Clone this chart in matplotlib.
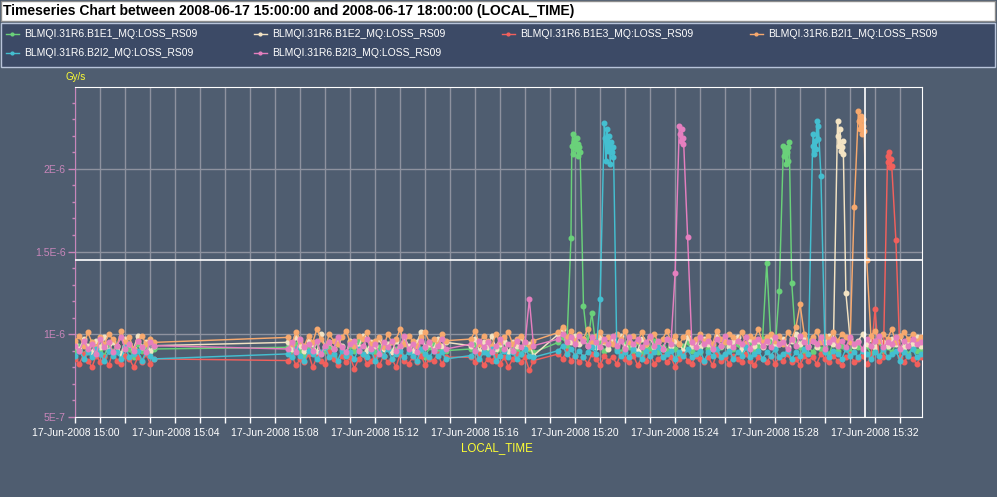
import pandas as pd
import matplotlib
matplotlib.use("Agg")
import matplotlib.pyplot as plt
import matplotlib.dates as mdates
from matplotlib.lines import Line2D
from matplotlib.patches import Rectangle
from matplotlib.ticker import MultipleLocator, FuncFormatter

plt.rcParams['font.family'] = ['Liberation Sans', 'DejaVu Sans']

# logging segments (start, number of 10 s samples)
seg_starts = ["2008-06-17 15:00:00", "2008-06-17 15:08:30", "2008-06-17 15:15:50", "2008-06-17 15:19:20"]
seg_counts = [20, 39, 16, 88]

names = ["BLMQI.31R6.B1E1_MQ:LOSS_RS09", "BLMQI.31R6.B1E2_MQ:LOSS_RS09", "BLMQI.31R6.B1E3_MQ:LOSS_RS09",
         "BLMQI.31R6.B2I1_MQ:LOSS_RS09", "BLMQI.31R6.B2I2_MQ:LOSS_RS09", "BLMQI.31R6.B2I3_MQ:LOSS_RS09"]
colors = ['#6ad17a', '#f3e3c3', '#f2605c', '#f7a96e', '#44bfd0', '#e57fbf']

# values in 1e-8 Gy/s on the 10 s grid
b1e1 = [90, 93, 88, 92, 95, 89, 91, 87, 94, 90, 92, 88, 93, 91, 86, 94, 90, 92, 89, 91,
        92, 89, 94, 90, 87, 93, 91, 95, 88, 90, 92, 86, 94, 91, 89, 93, 90, 96, 88, 91,
        93, 89, 92, 87, 94, 90, 91, 88, 95, 92, 89, 93, 90, 86, 92, 94, 89, 91, 90,
        91, 94, 88, 92, 90, 93, 87, 91, 95, 89, 92, 90, 88, 93, 91, 89,
        95, 98, 93, 158, 218, 213, 117, 94, 113, 92,
        95, 90, 93, 96, 91, 89, 94, 92, 90, 95,
        88, 93, 91, 96, 89, 92, 90, 94, 91, 88,
        93, 95, 90, 92, 89, 94, 91, 93, 88, 92,
        95, 90, 91, 94, 89, 92, 96, 90, 93, 97,
        143, 95, 91, 126, 214, 205, 131, 94, 92, 90,
        93, 89, 94, 91, 92, 88, 95, 90, 93, 91,
        89, 94, 92, 90, 93, 88, 91, 95, 90, 92,
        89, 94, 91, 93, 88, 92, 90, 91]
b1e2 = [94, 91, 97, 93, 89, 96, 92, 98, 90, 95, 93, 88, 97, 94, 91, 99, 92, 95, 90, 93,
        95, 91, 98, 93, 90, 96, 94, 89, 100, 92, 95, 91, 97, 93, 88, 96, 94, 92, 99, 90,
        95, 93, 97, 91, 94, 89, 96, 92, 98, 93, 90, 95, 101, 92, 94, 91, 97, 93, 95,
        93, 97, 90, 95, 92, 99, 91, 94, 96, 89, 95, 93, 98, 91, 94, 87,
        100, 103, 97, 95, 99, 94, 97, 93, 96, 92,
        98, 95, 91, 97, 94, 99, 92, 96, 93, 90,
        97, 94, 98, 92, 95, 91, 97, 93, 96, 94,
        90, 98, 93, 95, 92, 97, 94, 91, 99, 93,
        96, 92, 95, 98, 91, 94, 97, 93, 96, 92,
        95, 99, 93, 94, 97, 92, 96, 100, 94, 98,
        93, 96, 92, 97, 95, 99, 94, 229, 213, 125,
        97, 93, 96, 100, 94, 97, 92, 98, 95, 93,
        97, 94, 99, 92, 96, 94, 98, 93]
b1e3 = [85, 82, 88, 84, 80, 87, 83, 86, 81, 89, 84, 82, 87, 85, 80, 86, 83, 88, 82, 85,
        84, 87, 81, 85, 83, 88, 80, 86, 84, 82, 89, 85, 81, 87, 83, 86, 79, 85, 88, 82,
        84, 86, 81, 87, 83, 85, 80, 88, 84, 82, 86, 83, 87, 81, 85, 84, 88, 82, 86,
        86, 83, 88, 81, 85, 84, 87, 82, 86, 80, 85, 88, 83, 86, 78, 84,
        88, 85, 90, 84, 87, 83, 86, 82, 88, 85,
        81, 87, 84, 86, 82, 88, 85, 83, 87, 81,
        86, 84, 88, 82, 85, 87, 83, 86, 80, 85,
        88, 84, 82, 87, 85, 83, 86, 81, 88, 84,
        86, 82, 87, 85, 83, 88, 84, 81, 86, 85,
        83, 87, 82, 86, 84, 88, 83, 85, 81, 87,
        84, 86, 82, 88, 85, 83, 87, 84, 81, 86,
        88, 83, 85, 87, 82, 86, 115, 84, 86, 208,
        202, 157, 86, 83, 87, 85, 82, 86]
b2i1 = [96, 99, 93, 101, 95, 92, 98, 94, 100, 97, 93, 102, 95, 98, 91, 96, 99, 94, 97, 95,
        98, 94, 101, 96, 93, 99, 95, 103, 97, 92, 100, 96, 94, 98, 102, 95, 93, 99, 97, 101,
        94, 96, 98, 92, 100, 95, 97, 103, 94, 99, 96, 93, 98, 101, 95, 97, 94, 100, 96,
        97, 102, 94, 99, 96, 93, 100, 95, 98, 101, 94, 97, 99, 95, 92, 96,
        101, 104, 98, 102, 96, 100, 97, 103, 95, 99,
        101, 96, 98, 94, 100, 97, 102, 95, 99, 96,
        101, 94, 98, 100, 95, 97, 102, 96, 99, 94,
        98, 101, 95, 97, 100, 96, 99, 94, 102, 97,
        95, 100, 98, 96, 101, 94, 99, 97, 103, 95,
        98, 100, 96, 99, 94, 101, 97, 104, 118, 100,
        96, 98, 102, 95, 99, 97, 101, 96, 100, 98,
        95, 177, 235, 226, 145, 99, 102, 96, 100, 97,
        103, 95, 99, 101, 97, 100, 96, 98]
b2i2 = [87, 90, 85, 89, 86, 91, 88, 84, 90, 87, 89, 85, 92, 86, 88, 90, 84, 89, 87, 85,
        88, 86, 91, 87, 84, 90, 88, 85, 89, 92, 86, 88, 84, 90, 87, 89, 85, 91, 88, 86,
        90, 84, 89, 87, 91, 85, 88, 90, 86, 89, 87, 84, 91, 88, 86, 90, 87, 89, 85,
        87, 90, 85, 89, 88, 91, 84, 87, 90, 86, 89, 85, 88, 91, 87, 86,
        90, 93, 88, 91, 87, 90, 86, 89, 92, 88,
        121, 228, 214, 207, 90, 87, 89, 86, 91, 88,
        85, 90, 87, 89, 92, 86, 88, 90, 85, 89,
        87, 91, 86, 88, 90, 84, 89, 87, 91, 86,
        88, 90, 85, 89, 87, 92, 86, 88, 90, 85,
        89, 87, 91, 86, 88, 90, 85, 89, 87, 91,
        88, 214, 229, 196, 89, 86, 90, 88, 85, 91,
        87, 89, 86, 90, 88, 85, 89, 87, 91, 86,
        88, 90, 84, 89, 87, 91, 86, 88]
b2i3 = [93, 90, 96, 91, 94, 88, 97, 92, 95, 89, 93, 98, 91, 94, 90, 96, 92, 89, 95, 93,
        91, 95, 89, 97, 92, 94, 90, 96, 88, 93, 95, 91, 98, 92, 89, 94, 96, 90, 93, 97,
        91, 94, 88, 95, 92, 96, 90, 93, 99, 91, 94, 89, 96, 92, 95, 90, 93, 97, 91,
        94, 90, 96, 92, 95, 89, 93, 97, 91, 94, 90, 96, 92, 95, 121, 93,
        97, 100, 95, 98, 94, 99, 96, 93, 98, 95,
        92, 97, 94, 99, 93, 96, 91, 98, 94, 97,
        92, 95, 99, 93, 96, 91, 97, 94, 137, 226,
        219, 159, 95, 92, 98, 94, 96, 91, 97, 93,
        99, 95, 92, 96, 94, 98, 91, 95, 97, 93,
        96, 92, 98, 94, 95, 91, 97, 93, 99, 95,
        92, 96, 94, 98, 91, 95, 97, 93, 96, 92,
        98, 94, 95, 91, 97, 93, 96, 99, 92, 95,
        94, 98, 91, 96, 93, 97, 94, 95]

# extra fast samples logged during the loss bursts (time, 1e-8 Gy/s)
b1e1_burst_t = ["15:19:52", "15:19:54", "15:19:56", "15:19:58", "15:20:02", "15:20:04", "15:20:06", "15:20:08",
                "15:20:12", "15:28:22", "15:28:24", "15:28:26", "15:28:28", "15:28:32", "15:28:34"]
b1e1_burst_v = [214, 221, 209, 216, 212, 219, 208, 215, 210, 208, 212, 203, 210, 213, 216]
b1e2_burst_t = ["15:30:32", "15:30:34", "15:30:36", "15:30:38", "15:30:42", "15:30:44"]
b1e2_burst_v = [220, 214, 224, 211, 217, 209]
b1e3_burst_t = ["15:32:32", "15:32:34", "15:32:36", "15:32:38"]
b1e3_burst_v = [204, 210, 201, 206]
b2i1_burst_t = ["15:31:22", "15:31:24", "15:31:26", "15:31:28", "15:31:32", "15:31:34"]
b2i1_burst_v = [229, 224, 232, 221, 230, 223]
b2i2_burst_t = ["15:21:12", "15:21:14", "15:21:16", "15:21:18", "15:21:22", "15:21:24", "15:21:26", "15:21:28",
                "15:21:32", "15:29:32", "15:29:34", "15:29:36", "15:29:38", "15:29:42", "15:29:44"]
b2i2_burst_v = [219, 205, 224, 211, 220, 203, 216, 210, 213, 221, 209, 217, 212, 218, 226]
b2i3_burst_t = ["15:24:12", "15:24:14", "15:24:16", "15:24:18"]
b2i3_burst_v = [221, 217, 224, 215]

series = [b1e1, b1e2, b1e3, b2i1, b2i2, b2i3]
bursts = [(b1e1_burst_t, b1e1_burst_v), (b1e2_burst_t, b1e2_burst_v), (b1e3_burst_t, b1e3_burst_v),
          (b2i1_burst_t, b2i1_burst_v), (b2i2_burst_t, b2i2_burst_v), (b2i3_burst_t, b2i3_burst_v)]

threshold = 1.45e-6
marker_time = "2008-06-17 15:31:37"
x_start = "2008-06-17 15:00:00"
x_end = "2008-06-17 15:33:52"

times = pd.DatetimeIndex([])
for s, n in zip(seg_starts, seg_counts):
    times = times.append(pd.date_range(s, periods=n, freq="10s"))

bg = '#4f5d70'
pink_axis = '#c886ba'

fig = plt.figure(figsize=(9.97, 4.97), dpi=100)
fig.patch.set_facecolor(bg)

# title bar and legend panel
fig.add_artist(Rectangle((0.001, 476 / 497), 0.997, 20.5 / 497, transform=fig.transFigure,
                         facecolor='white', edgecolor='#8c8c8c', lw=1))
fig.text(3 / 997, 486 / 497, "Timeseries Chart between 2008-06-17 15:00:00 and 2008-06-17 18:00:00 (LOCAL_TIME)",
         fontsize=10, weight='bold', color='black', va='center', ha='left')
fig.add_artist(Rectangle((0.001, 430 / 497), 0.997, 44.5 / 497, transform=fig.transFigure,
                         facecolor='#3c4a66', edgecolor='#b8c4da', lw=1))

ax = fig.add_axes([75.3 / 997, 80.3 / 497, 846.4 / 997, 329.9 / 497])
ax.set_facecolor(bg)

for vals, (bt, bv), c in zip(series, bursts, colors):
    s = pd.Series(vals, index=times)
    extra = pd.Series(bv, index=pd.to_datetime(["2008-06-17 " + t for t in bt]))
    s = pd.concat([s, extra]).sort_index() * 1e-8
    ax.plot(s.index, s.values, color=c, lw=1.05, marker='o', ms=3.3,
            mec=c, mfc=c, zorder=3)

ax.axhline(threshold, color='white', lw=1.2, zorder=5)
ax.axvline(pd.Timestamp(marker_time), color='white', lw=1.2, zorder=5)

ax.set_xlim(pd.Timestamp(x_start), pd.Timestamp(x_end))
ax.set_ylim(0.5e-6, 2.497e-6)

ax.xaxis.set_major_locator(mdates.MinuteLocator(byminute=range(0, 60, 4)))
ax.xaxis.set_minor_locator(mdates.MinuteLocator())
ax.xaxis.set_major_formatter(mdates.DateFormatter('%d-%b-%Y %H:%M'))
ax.yaxis.set_major_locator(MultipleLocator(5e-7))
ax.yaxis.set_minor_locator(MultipleLocator(1e-7))


def sci(v, pos):
    mant, ex = f"{v:.1E}".split('E')
    mant = mant.rstrip('0').rstrip('.')
    return f"{mant}E{int(ex)}"


ax.yaxis.set_major_formatter(FuncFormatter(sci))

ax.grid(which='both', axis='x', color='#8e929f', lw=1, zorder=1)
ax.grid(which='major', axis='y', color='#8e929f', lw=1, zorder=1)
ax.set_axisbelow(True)

ax.tick_params(axis='x', which='both', colors='white', length=4, width=1, labelsize=7.5, pad=4)
ax.tick_params(axis='y', which='major', colors=pink_axis, length=5, width=1, labelsize=7.5, pad=2)
ax.tick_params(axis='y', which='minor', colors=pink_axis, length=2.5, width=1)

for side in ['top', 'right', 'bottom']:
    ax.spines[side].set_color('white')
ax.spines['left'].set_color(pink_axis)

fig.text(75.5 / 997, (497 - 76.7) / 497, "Gy/s", color='#ffff33', fontsize=7, ha='center', va='center')
fig.text(497 / 997, (497 - 447.7) / 497, "LOCAL_TIME", color='#ffff33', fontsize=8.3, ha='center', va='center')

# legend entries, laid out in 4 columns by row
for k, (name, c) in enumerate(zip(names, colors)):
    row, col = divmod(k, 4)
    tx = 24.5 + 248 * col
    ty = 497 - (34 if row == 0 else 53)
    fig.add_artist(Line2D([(tx - 19) / 997, (tx - 12.5) / 997, (tx - 6) / 997], [ty / 497] * 3,
                          transform=fig.transFigure, color=c, lw=1, marker='o', ms=2, markevery=[1]))
    fig.text(tx / 997, ty / 497, name, color='white', fontsize=7.5, ha='left', va='center')

fig.savefig("out.png", dpi=100, facecolor=bg)
